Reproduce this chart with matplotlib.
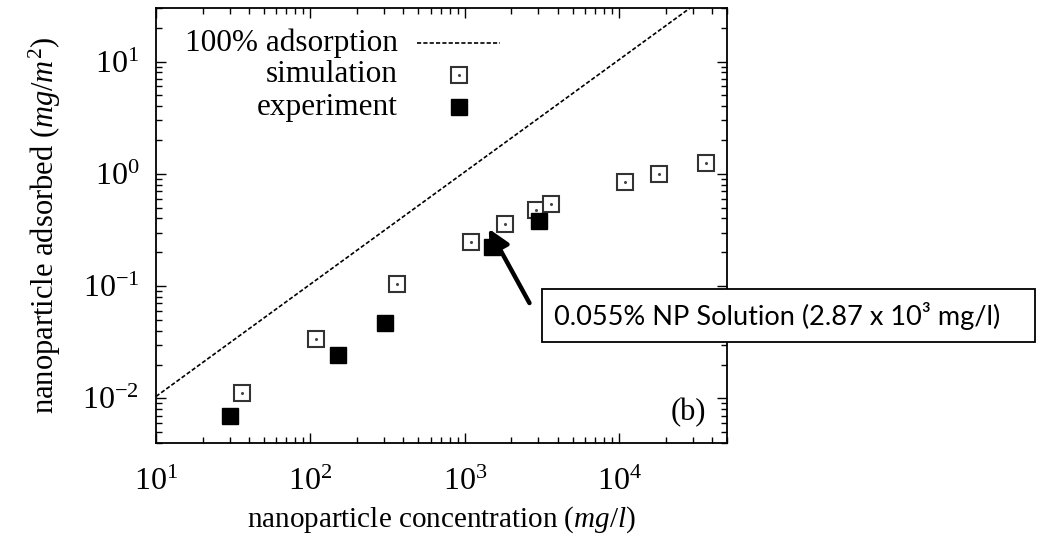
import numpy as np
import matplotlib
matplotlib.use("Agg")
import matplotlib.pyplot as plt
from matplotlib.patches import Rectangle

# ---------------------------------------------------------------------
#  Data
# ---------------------------------------------------------------------
sim_conc = [36, 108, 364, 1100, 1810, 2910, 3640, 10960, 18240, 36400]
sim_ads = [0.0112, 0.0341, 0.104, 0.248, 0.358, 0.478, 0.534, 0.848, 0.99, 1.26]

exp_conc = [30, 151, 303, 1510, 3010]
exp_ads = [0.0070, 0.0243, 0.0469, 0.222, 0.378]

# 100% adsorption reference line (end points)
full_conc = [10, 50000]
full_ads = [0.0104, 52.0]

legend_labels = ["100% adsorption", "simulation", "experiment"]
note_text = "0.055% NP Solution (2.87 x 10\u00b3 mg/l)"
arrow_tip = (1430, 0.324)
arrow_tail = (2626, 0.0706)

plt.rcParams["font.family"] = ["Liberation Serif", "DejaVu Serif"]
plt.rcParams["mathtext.fontset"] = "custom"
plt.rcParams["mathtext.rm"] = "Liberation Serif"
plt.rcParams["mathtext.it"] = "Liberation Serif:italic"

fig = plt.figure(figsize=(10.55, 5.40), dpi=100)
ax = fig.add_axes([0.1479, 0.1796, 0.5412, 0.8056])

ax.plot(full_conc, full_ads, color="black", lw=1.2, dashes=(2.5, 1.3))
ax.plot(sim_conc, sim_ads, ls="none", marker="s", ms=11.5, mfc="white",
        mec="#333333", mew=1.5)
ax.plot(sim_conc, sim_ads, ls="none", marker="o", ms=1.2, color="#444444")
ax.plot(exp_conc, exp_ads, ls="none", marker="s", ms=12, color="black")

ax.set_xscale("log")
ax.set_yscale("log")
ax.set_xlim(10, 5e4)
ax.set_ylim(0.004, 30)

ax.tick_params(which="both", direction="in", top=True, right=True,
               labelsize=23, width=1.0)
ax.tick_params(which="major", length=7)
ax.tick_params(axis="x", which="major", pad=18)
ax.tick_params(axis="y", which="major", pad=12)
ax.tick_params(which="minor", length=4)
for s in ax.spines.values():
    s.set_linewidth(1.3)

ax.set_xlabel("nanoparticle concentration ($mg/l$)", fontsize=21, labelpad=5)
ax.set_ylabel("nanoparticle adsorbed ($mg/m^2$)", fontsize=22, labelpad=14)

ax.text(0.963, 0.071, "(b)", transform=ax.transAxes, ha="right",
        va="center", fontsize=22)

# gnuplot style key: labels right aligned, sample on the right
rows = [0.9195, 0.846, 0.7724]
for lab, yy in zip(legend_labels, rows):
    ax.text(0.424, yy, lab, transform=ax.transAxes, ha="right",
            va="center", fontsize=22.5)
ax.plot([0.457, 0.602], [rows[0], rows[0]], transform=ax.transAxes,
        color="black", lw=1.2, dashes=(2.5, 1.3))
ax.plot([0.530], [rows[1]], transform=ax.transAxes, marker="s", ms=11.5,
        mfc="white", mec="#333333", mew=1.5)
ax.plot([0.530], [rows[1]], transform=ax.transAxes, marker="o", ms=1.2,
        color="#444444")
ax.plot([0.530], [rows[2]], transform=ax.transAxes, marker="s", ms=12,
        color="black")

# annotation arrow + callout box
ax.annotate("", xy=arrow_tip, xytext=arrow_tail,
            arrowprops=dict(arrowstyle="-|>", lw=3.2, color="black",
                            mutation_scale=32, shrinkA=0, shrinkB=0))
box = Rectangle((0.5137, 0.3667), 0.467, 0.0981, transform=fig.transFigure,
                facecolor="white", edgecolor="black", lw=1.3, zorder=5)
fig.add_artist(box)
fig.text(0.525, 0.414, note_text, ha="left", va="center", fontsize=19.5,
         family=["Lato", "DejaVu Sans"], zorder=6)

fig.savefig("out.png", dpi=100)
